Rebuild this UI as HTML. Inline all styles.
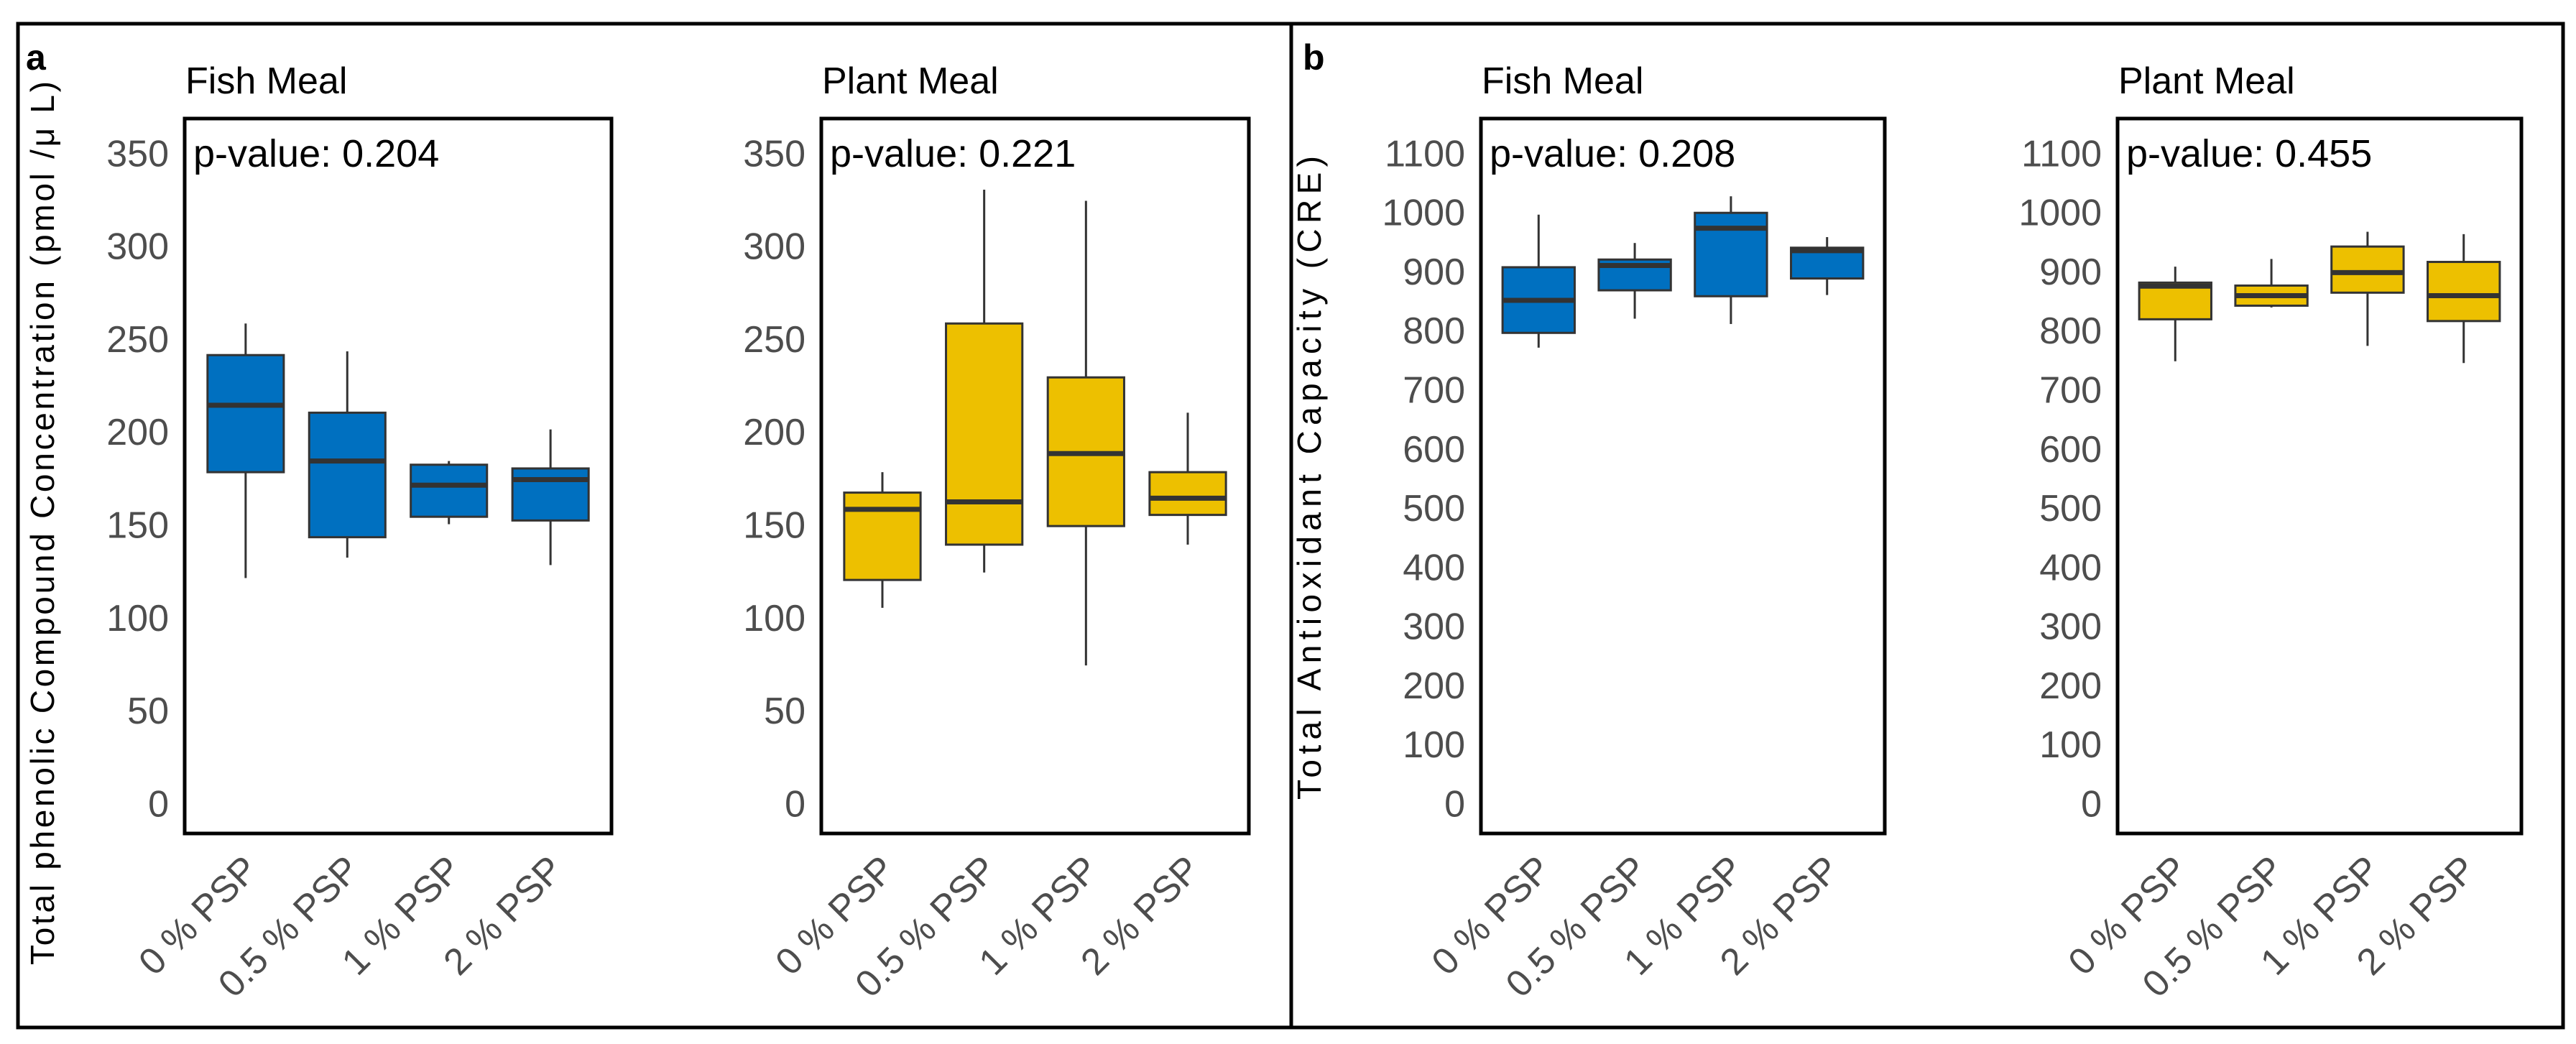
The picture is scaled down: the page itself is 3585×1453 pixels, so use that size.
<!DOCTYPE html>
<html><head><meta charset="utf-8"><style>
html,body{margin:0;padding:0;background:#fff;}
svg{display:block;font-family:"Liberation Sans",Arial,sans-serif;}
</style></head><body>
<svg id="chart" width="3585" height="1453" viewBox="0 0 3585 1453" xmlns="http://www.w3.org/2000/svg">
<rect x="0" y="0" width="3585" height="1453" fill="#fff"/>
<rect x="25" y="33" width="3542" height="1397" fill="none" stroke="#000" stroke-width="5"/>
<line x1="1797" y1="33" x2="1797" y2="1430" stroke="#000" stroke-width="5"/>
<text x="36" y="97" font-size="50" font-weight="bold">a</text>
<text x="1813" y="97" font-size="50" font-weight="bold">b</text>
<text transform="translate(75,728) rotate(-90)" text-anchor="middle" font-size="46" textLength="1230" lengthAdjust="spacing" fill="#000">Total phenolic Compound Concentration (pmol /μ L)</text>
<text transform="translate(1838,665) rotate(-90)" text-anchor="middle" font-size="46" textLength="896" lengthAdjust="spacing" fill="#000">Total Antioxidant Capacity (CRE)</text>
<g id="plots"></g>
</svg>
<script>
const categories = ["0 % PSP", "0.5 % PSP", "1 % PSP", "2 % PSP"];
const ticksA = [0, 50, 100, 150, 200, 250, 300, 350];
const ticksB = [0, 100, 200, 300, 400, 500, 600, 700, 800, 900, 1000, 1100];
// [low whisker, Q1, median, Q3, high whisker]
const fishA = [[121,178,214,241,258],[132,143,184,210,243],[150,154,171,182,184],[128,152,174,180,201]];
const plantA = [[105,120,158,167,178],[124,139,162,258,330],[74,149,188,229,324],[139,155,164,178,210]];
const fishB = [[770,795,850,906,995],[819,867,909,919,947],[810,857,972,998,1026],[859,887,934,939,957]];
const plantB = [[747,818,874,880,907],[838,841,858,875,920],[773,863,897,941,966],[744,815,858,915,962]];
const titles = ["Fish Meal", "Plant Meal", "Fish Meal", "Plant Meal"];
const pvalues = ["0.204", "0.221", "0.208", "0.455"];

const NS = "http://www.w3.org/2000/svg";
const root = document.getElementById("plots");
function mk(tag, attrs, parent) {
  const e = document.createElementNS(NS, tag);
  for (const k in attrs) e.setAttribute(k, attrs[k]);
  (parent || root).appendChild(e);
  return e;
}
const TOP = 165, BOTTOM = 1160, Y0 = 1117.5, YTOP = 212.3;
const panels = [
  {left: 257, right: 851, data: fishA, ticks: ticksA, max: 350, fill: "#0070C0", id: "a-fish"},
  {left: 1143, right: 1738, data: plantA, ticks: ticksA, max: 350, fill: "#EDC000", id: "a-plant"},
  {left: 2061, right: 2623, data: fishB, ticks: ticksB, max: 1100, fill: "#0070C0", id: "b-fish"},
  {left: 2947, right: 3509, data: plantB, ticks: ticksB, max: 1100, fill: "#EDC000", id: "b-plant"}
];
panels.forEach((p, pi) => {
  const g = mk("g", {});
  
  
  const y = v => Y0 - v * (Y0 - YTOP) / p.max;
  const W = p.right - p.left;
  const step = W / 4.2;
  const x = i => p.left + step * (0.6 + i);
  const t = mk("text", {x: p.left + 1, y: 130, "font-size": 52, fill: "#000"}, g);
  t.textContent = titles[pi];
  
  
  p.ticks.forEach(v => {
    const tt = mk("text", {x: p.left - 22, y: y(v) + 19, "font-size": 52, fill: "#4d4d4d", "text-anchor": "end"}, g);
    tt.textContent = v;
    
    
  });
  p.data.forEach((d, i) => {
    const cx = x(i), bw = step * 0.75;
    const bg = mk("g", {}, g);
    
    
    const w1 = mk("line", {x1: cx, x2: cx, y1: y(d[3]), y2: y(d[4]), stroke: "#333", "stroke-width": 3}, bg);
    
    
    const w2 = mk("line", {x1: cx, x2: cx, y1: y(d[0]), y2: y(d[1]), stroke: "#333", "stroke-width": 3}, bg);
    
    
    const r = mk("rect", {x: cx - bw / 2, y: y(d[3]), width: bw, height: y(d[1]) - y(d[3]), fill: p.fill, stroke: "#333", "stroke-width": 3}, bg);
    
    
    const m = mk("line", {x1: cx - bw / 2, x2: cx + bw / 2, y1: y(d[2]), y2: y(d[2]), stroke: "#333", "stroke-width": 7}, bg);
    
    
    const lb = mk("text", {transform: "translate(" + (cx + 20) + ",1213) rotate(-45)", "font-size": 52, fill: "#4d4d4d", "text-anchor": "end"}, g);
    lb.textContent = categories[i];
    
    
  });
  const fr = mk("rect", {x: p.left, y: TOP, width: W, height: BOTTOM - TOP, fill: "none", stroke: "#000", "stroke-width": 5}, g);
  
  
  const pv = mk("text", {x: p.left + 12, y: 232, "font-size": 54, fill: "#000"}, g);
  pv.textContent = "p-value: " + pvalues[pi];
  
  
});
</script>
</body></html>
